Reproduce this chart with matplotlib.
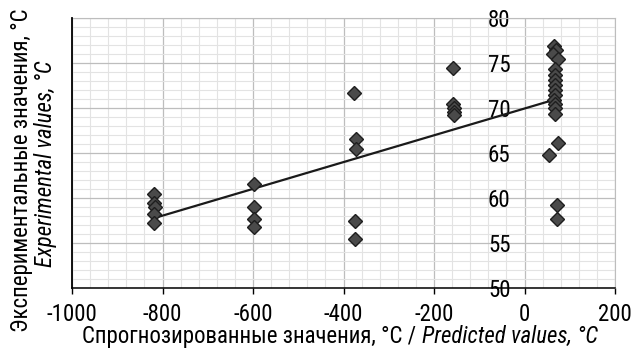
import numpy as np
import matplotlib
matplotlib.use("Agg")
import matplotlib.pyplot as plt
from matplotlib import font_manager
from matplotlib.ticker import MultipleLocator

# узкий шрифт, если есть
installed = {(f.name, f.stretch) for f in font_manager.fontManager.ttflist}
names = {n for n, s in installed}
stretch = 'normal'
if 'Liberation Sans Narrow' in names:
    family = 'Liberation Sans Narrow'
elif 'Roboto Condensed' in names:
    family = 'Roboto Condensed'
elif ('DejaVu Sans', 'condensed') in installed or 'DejaVu Sans Condensed' in names:
    family = 'DejaVu Sans'
    stretch = 'condensed'
else:
    family = 'Roboto'
plt.rcParams['font.family'] = [family, 'DejaVu Sans']
plt.rcParams['font.stretch'] = stretch

# Прогноз (x) и эксперимент (y), °C
x_pred = [-819, -819, -816, -819, -819,
          -597, -597, -597, -597,
          -377, -372, -372, -375, -375,
          -157, -157, -155, -155, -155,
          65, 70, 62, 74, 68, 68, 68, 67, 68, 68, 66, 67, 68, 67,
          73, 54, 72, 72]
y_exp = [60.5, 59.4, 59.0, 58.2, 57.2,
         61.6, 59.0, 57.7, 56.8,
         71.7, 66.6, 65.4, 57.5, 55.4,
         74.4, 70.5, 70.0, 69.6, 69.2,
         76.9, 76.5, 76.0, 75.5, 74.3, 73.7, 73.1, 72.6, 72.0, 71.4, 70.9, 70.4, 70.0, 69.3,
         66.1, 64.8, 59.2, 57.7]

x_ticks = [-1000, -800, -600, -400, -200, 0, 200]
y_ticks = [50, 55, 60, 65, 70, 75, 80]

fs = 16.5

fig = plt.figure(figsize=(6.36, 3.49), dpi=100)
ax = fig.add_axes([72 / 636, 1 - 288 / 349, 543 / 636, 270 / 349])

ax.set_xlim(x_ticks[0], x_ticks[-1])
ax.set_ylim(y_ticks[0], y_ticks[-1])
ax.set_xticks(x_ticks)
ax.set_yticks(y_ticks)
ax.xaxis.set_minor_locator(MultipleLocator(40))
ax.yaxis.set_minor_locator(MultipleLocator(1))
ax.grid(which='major', color='#bdbdbd', linewidth=0.9)
ax.grid(which='minor', color='#e3e3e3', linewidth=0.8)
ax.set_axisbelow(True)

# ось Y проходит через x = 0
ax.spines['left'].set_position(('data', 0))
ax.spines['left'].set_visible(False)
ax.spines['top'].set_color('#bdbdbd')
ax.spines['right'].set_color('#bdbdbd')
ax.spines['bottom'].set_color('black')
ax.spines['bottom'].set_linewidth(1.1)
ax.axvline(x_ticks[0], color='black', linewidth=1.3, clip_on=False, zorder=3)

ax.tick_params(axis='y', which='both', length=0, pad=10, labelsize=fs)
ax.tick_params(axis='x', which='major', length=4.5, width=1, direction='out',
               pad=6, labelsize=fs, color='black')
ax.tick_params(axis='x', which='minor', length=0)
ax.set_xticklabels([str(t) for t in x_ticks])

# линия тренда
k, b = np.polyfit(x_pred, y_exp, 1)
xs = np.array([min(x_pred), max(x_pred)])
ax.plot(xs, k * xs + b, color='#1a1a1a', linewidth=1.6, zorder=3)

ax.plot(x_pred, y_exp, linestyle='none', marker='D', markersize=7.5,
        markerfacecolor='#4a4a4a', markeredgecolor='#1e1e1e', markeredgewidth=1.0,
        zorder=4)

# подписи осей
fig.text(22 / 636, 1 - 170 / 349, 'Экспериментальные значения, °С',
         rotation=90, ha='center', va='center', fontsize=fs)
fig.text(46 / 636, 1 - 164 / 349, 'Experimental values, °C', style='italic',
         rotation=90, ha='center', va='center', fontsize=fs)

t1 = fig.text(0, 1 - 337 / 349, 'Спрогнозированные значения, °С / ',
              ha='left', va='center', fontsize=fs)
t2 = fig.text(0, 1 - 337 / 349, 'Predicted values, °C', style='italic',
              ha='left', va='center', fontsize=fs)
fig.canvas.draw()
r = fig.canvas.get_renderer()
w1 = t1.get_window_extent(r).width
w2 = t2.get_window_extent(r).width
x0 = 340 - (w1 + w2) / 2
t1.set_x(x0 / 636)
t2.set_x((x0 + w1) / 636)

fig.savefig('out.png', dpi=100)
